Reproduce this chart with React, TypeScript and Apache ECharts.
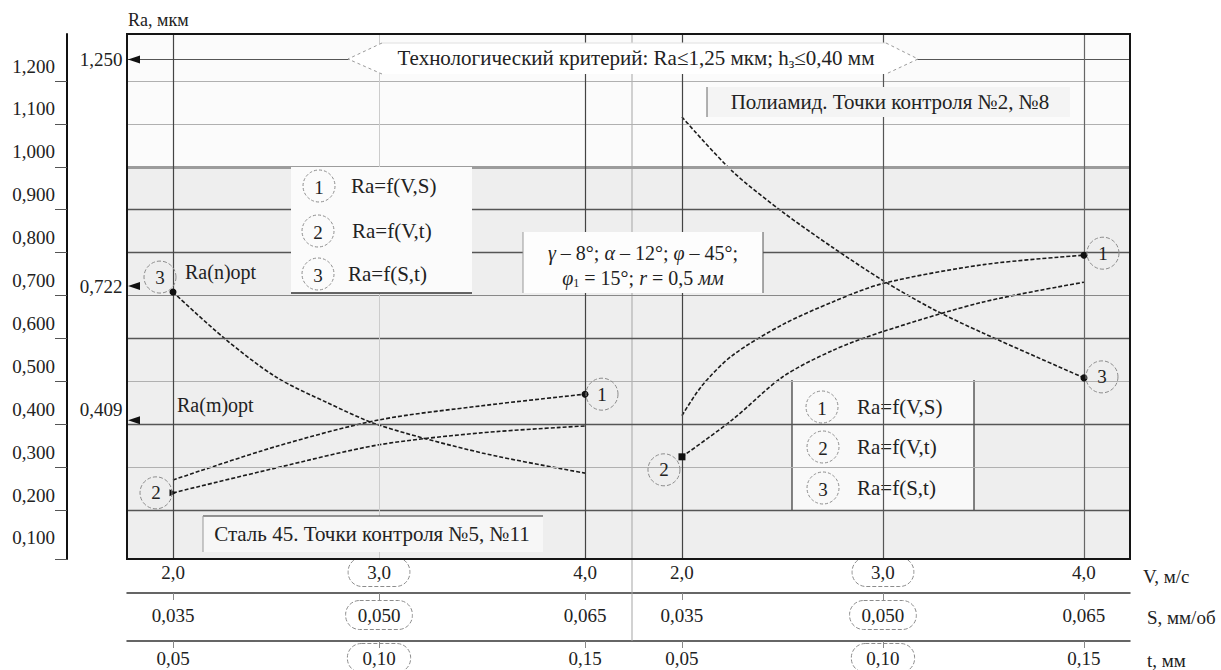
import React, { useEffect, useRef } from "react";
import * as echarts from "echarts";

// ---------- data ----------
const V_TICKS = [2, 3, 4];
const V_LABELS = ["2,0", "3,0", "4,0"];
const S_LABELS = ["0,035", "0,050", "0,065"];
const T_LABELS = ["0,05", "0,10", "0,15"];

const Y_GRID = [0.2, 0.3, 0.4, 0.5, 0.6, 0.7, 0.8, 0.9, 1.0, 1.1, 1.2];
const Y_LABEL_VALUES = [0.1, 0.2, 0.3, 0.4, 0.5, 0.6, 0.7, 0.8, 0.9, 1.0, 1.1, 1.2];

// Сталь 45 (left block), x = V, м/с
const STEEL_VS = [[2, 0.27], [2.5, 0.348], [3, 0.41], [3.5, 0.443], [4, 0.47]];
const STEEL_VT = [[2, 0.24], [2.5, 0.298], [3, 0.352], [3.5, 0.38], [4, 0.396]];
const STEEL_ST = [[2, 0.708], [2.25, 0.6], [2.5, 0.51], [2.75, 0.45], [3, 0.398], [3.5, 0.333], [4, 0.286]];

// Полиамид (right block)
const PA_VS = [[2, 0.42], [2.1, 0.49], [2.25, 0.56], [2.5, 0.632], [2.75, 0.685], [3, 0.728], [3.5, 0.772], [4, 0.794]];
const PA_VT = [[2, 0.324], [2.25, 0.41], [2.5, 0.51], [2.75, 0.572], [3, 0.616], [3.5, 0.685], [4, 0.731]];
const PA_ST = [[2, 1.116], [2.25, 0.99], [2.5, 0.895], [2.75, 0.812], [3, 0.735], [3.25, 0.668], [3.5, 0.612], [4, 0.508]];

const RA_CRITERION = 1.25;
const RA_N_OPT = 0.722;
const RA_M_OPT = 0.409;

// ---------- axis ranges ----------
const Y_MIN = 0.0858;
const Y_MAX = 1.3096;
const XL_MIN = 1.7767;
const XL_MAX = 6.6456;
const XR_MIN = -0.761;
const XR_MAX = 4.229;

const SERIF = "Liberation Serif, Times New Roman, DejaVu Serif, serif";
const INK = "#222222";

const numStyle = {
  fontFamily: SERIF,
  fontSize: 19,
  color: INK,
  lineHeight: 18,
  padding: [5, 0, 5, 0],
};
const ringStyle = (px: number) => ({
  ...numStyle,
  padding: [5, px, 5, px],
  borderColor: "#8c8c8c",
  borderWidth: 1,
  borderType: "dashed",
  borderRadius: 14,
});
const RICH = { n: numStyle, cV: ringStyle(19), cS: ringStyle(12), cT: ringStyle(15) };

const labelFormatter = (labels: string[], ringKey: string) => (value: number) => {
  const i = V_TICKS.findIndex((t) => Math.abs(t - value) < 1e-6);
  if (i < 0) return "";
  return i === 1 ? `{${ringKey}|${labels[i]}}` : `{n|${labels[i]}}`;
};

const bottomAxis = (
  min: number,
  max: number,
  labels: string[],
  ringKey: string,
  offset: number,
  margin: number,
  showLine: boolean
) => ({
  type: "value",
  gridIndex: 0,
  position: "bottom",
  offset,
  min,
  max,
  splitLine: { show: false },
  axisLine: { show: showLine, onZero: false, lineStyle: { color: "#333", width: 1.5 } },
  axisTick: {
    show: offset > 0,
    customValues: V_TICKS,
    length: 7,
    lineStyle: { color: "#888", width: 1 },
  },
  axisLabel: {
    show: true,
    customValues: V_TICKS,
    formatter: labelFormatter(labels, ringKey),
    margin,
    rich: RICH,
    fontFamily: SERIF,
    fontSize: 19,
    color: INK,
    hideOverlap: false,
  },
});

const gridLineStyle = (v: number) => {
  if (Math.abs(v - 1.0) < 1e-6) return { color: "#9c9c9c", width: 3, type: "solid" };
  if ([0.2, 0.4, 0.6, 0.8, 0.9].some((s) => Math.abs(s - v) < 1e-6))
    return { color: "#555555", width: 1.3, type: "solid" };
  if (Math.abs(v - 0.7) < 1e-6) return { color: "#888888", width: 1.1, type: "solid" };
  return { color: "#b0b0b0", width: 1, type: "solid" };
};

const dot = (pt: number[], symbol = "circle", rotate = 0) => ({
  coord: pt,
  symbol,
  symbolSize: 7,
  symbolRotate: rotate,
  itemStyle: { color: "#111" },
  label: { show: false },
});
const ring = (pt: number[], num: string, offset: number[]) => ({
  coord: pt,
  symbol: "circle",
  symbolSize: 32,
  symbolOffset: offset,
  itemStyle: { color: "rgba(255,255,255,0)", borderColor: "#8c8c8c", borderWidth: 1, borderType: "dashed" },
  label: { show: true, position: "inside", formatter: num, fontFamily: SERIF, fontSize: 19, color: INK },
});
const first = (d: number[][]) => d[0];
const last = (d: number[][]) => d[d.length - 1];

const curve = (name: string, data: number[][], xAxisIndex: number, marks: any[]) => ({
  name,
  type: "line",
  xAxisIndex,
  yAxisIndex: 0,
  data,
  smooth: 0.3,
  symbol: "none",
  silent: true,
  z: 3,
  lineStyle: { color: "#1b1b1b", width: 1.6, type: [4, 2] },
  markPoint: { silent: true, animation: false, data: marks },
});

const refArrow = (v: number) => ({
  coord: [XL_MIN, v],
  symbol: "triangle",
  symbolSize: [8, 12],
  symbolRotate: 90,
  symbolOffset: [7, 0],
  itemStyle: { color: "#111" },
  label: { show: false },
});
const refLabel = (v: number, text: string, dy: number) => ({
  coord: [XL_MIN, v],
  symbol: "circle",
  symbolSize: 1,
  itemStyle: { color: "rgba(0,0,0,0)" },
  label: {
    show: true,
    position: "left",
    distance: 4,
    offset: [0, dy],
    formatter: text,
    fontFamily: SERIF,
    fontSize: 19,
    color: INK,
  },
});

const txt = (x: number, y: number, text: string, size: number, align = "left", extra: any = {}) => ({
  type: "text",
  x,
  y,
  z: 12,
  silent: true,
  style: {
    text,
    fill: INK,
    fontFamily: SERIF,
    fontSize: size,
    align,
    verticalAlign: "middle",
    ...extra,
  },
});
const rect = (x: number, y: number, w: number, h: number, fill: string, z = 10) => ({
  type: "rect",
  z,
  silent: true,
  shape: { x, y, width: w, height: h },
  style: { fill, stroke: null },
});
const seg = (x1: number, y1: number, x2: number, y2: number, stroke: string, w = 1, z = 11, dash: any = null) => ({
  type: "line",
  z,
  silent: true,
  shape: { x1, y1, x2, y2 },
  style: { stroke, lineWidth: w, lineDash: dash },
});
const legendRing = (cx: number, cy: number, num: string, z = 12) => [
  {
    type: "circle",
    z,
    silent: true,
    shape: { cx, cy, r: 16 },
    style: { fill: "rgba(0,0,0,0)", stroke: "#8c8c8c", lineWidth: 1, lineDash: [3, 2] },
  },
  { ...txt(cx, cy + 1, num, 19, "center"), z: z + 1 },
];

function buildOption() {
  const hLines = Y_GRID.map((v) => ({ yAxis: v, lineStyle: gridLineStyle(v) }));
  const leftV = [
    { xAxis: V_TICKS[0], lineStyle: { color: "#444", width: 1.2, type: "solid" } },
    { xAxis: V_TICKS[1], lineStyle: { color: "#cccccc", width: 1, type: "solid" } },
    { xAxis: V_TICKS[2], lineStyle: { color: "#444", width: 1.2, type: "solid" } },
  ];
  const rightV = [
    { xAxis: V_TICKS[0], lineStyle: { color: "#444", width: 1.2, type: "solid" } },
    { xAxis: V_TICKS[1], lineStyle: { color: "#555", width: 1.2, type: "solid" } },
    { xAxis: V_TICKS[2], lineStyle: { color: "#666", width: 1.2, type: "solid" } },
  ];

  const graphicEls: any[] = [
    txt(128, 20, "Ra, мкм", 18, "left"),
    // axis titles of the three scales
    txt(1143, 576, "V, м/с", 19, "left"),
    txt(1147, 617, "S, мм/об", 19, "left"),
    txt(1147, 660, "t, мм", 19, "left"),
    // divider between blocks
    seg(632, 34, 632, 641, "#a5a5a5", 1, 2.5),
    // criterion arrow box
    {
      type: "polygon",
      z: 10,
      silent: true,
      shape: { points: [[348, 59], [382, 43], [886, 43], [918, 59], [886, 74], [382, 74]] },
      style: { fill: "#ffffff" },
    },
    {
      type: "polyline",
      z: 11,
      silent: true,
      shape: { points: [[382, 43], [348, 59], [382, 74]] },
      style: { stroke: "#9a9a9a", lineWidth: 1, lineDash: [3, 3], fill: null },
    },
    {
      type: "polyline",
      z: 11,
      silent: true,
      shape: { points: [[886, 43], [918, 59], [886, 74]] },
      style: { stroke: "#9a9a9a", lineWidth: 1, lineDash: [3, 3], fill: null },
    },
    seg(382, 43, 886, 43, "#e0e0e0", 1),
    txt(636, 58, "Технологический критерий: Ra≤1,25 мкм; h{sub|з}≤0,40 мм", 21, "center", {
      rich: { sub: { fontFamily: SERIF, fontSize: 14, fill: INK, padding: [10, 0, 0, 0] } },
    }),
    // Полиамид label
    rect(707, 87, 363, 30, "#f4f4f4"),
    seg(707, 87, 707, 117, "#666"),
    txt(890, 102, "Полиамид. Точки контроля №2, №8", 21, "center"),
    // left legend box
    rect(291, 167, 181, 126, "#fbfbfb"),
    seg(291, 293, 472, 293, "#333", 1.5),
    ...legendRing(319, 186, "1"),
    ...legendRing(318, 231, "2"),
    ...legendRing(318, 274, "3"),
    txt(351, 186, "Ra=f(V,S)", 21),
    txt(352, 231, "Ra=f(V,t)", 21),
    txt(348, 274, "Ra=f(S,t)", 21),
    // parameters box
    rect(523, 232, 240, 61, "#fdfdfd"),
    seg(523, 232, 523, 293, "#999"),
    seg(763, 232, 763, 293, "#555"),
    txt(643, 253, "{i|γ} – 8°; {i|α} – 12°; {i|φ} – 45°;", 20, "center", {
      rich: { i: { fontFamily: SERIF, fontSize: 20, fontStyle: "italic", fill: INK } },
    }),
    txt(643, 278, "{i|φ}{sub|1} = 15°; {i|r} = 0,5 {i|мм}", 20, "center", {
      rich: {
        i: { fontFamily: SERIF, fontSize: 20, fontStyle: "italic", fill: INK },
        sub: { fontFamily: SERIF, fontSize: 12, fill: INK, padding: [10, 0, 0, 0] },
      },
    }),
    // right legend box (under the grid lines)
    rect(792, 380, 182, 130, "#f9f9f9", 1.5),
    seg(792, 380, 792, 510, "#333", 1.2, 2.5),
    seg(974, 380, 974, 510, "#333", 1.2, 2.5),
    ...legendRing(822, 407, "1", 4),
    ...legendRing(823, 447, "2", 4),
    ...legendRing(823, 488, "3", 4),
    { ...txt(857, 407, "Ra=f(V,S)", 21), z: 5 },
    { ...txt(857, 447, "Ra=f(V,t)", 21), z: 5 },
    { ...txt(857, 488, "Ra=f(S,t)", 21), z: 5 },
    // Сталь 45 label
    rect(203, 516, 340, 36, "#f7f7f7"),
    seg(203, 516, 543, 516, "#333", 1.2),
    seg(203, 516, 203, 552, "#999"),
    txt(372, 534, "Сталь 45. Точки контроля №5, №11", 21, "center"),
    // optimum annotations
    txt(185, 272, "Ra(n)opt", 20),
    txt(177, 405, "Ra(m)opt", 20),
  ];

  return {
    animation: false,
    backgroundColor: "#ffffff",
    textStyle: { fontFamily: SERIF },
    grid: {
      left: 127,
      top: 34,
      width: 1003,
      height: 525,
      show: true,
      borderColor: "#141414",
      borderWidth: 2,
      backgroundColor: "rgba(0,0,0,0)",
      z: 6,
      containLabel: false,
      outerBoundsMode: "none",
    },
    xAxis: [
      bottomAxis(XL_MIN, XL_MAX, V_LABELS, "cV", 0, 4, false),
      bottomAxis(XR_MIN, XR_MAX, V_LABELS, "cV", 0, 4, false),
      bottomAxis(XL_MIN, XL_MAX, S_LABELS, "cS", 34, 13, true),
      bottomAxis(XR_MIN, XR_MAX, S_LABELS, "cS", 34, 13, false),
      bottomAxis(XL_MIN, XL_MAX, T_LABELS, "cT", 82, 8, true),
      bottomAxis(XR_MIN, XR_MAX, T_LABELS, "cT", 82, 8, false),
    ],
    yAxis: [
      {
        type: "value",
        min: Y_MIN,
        max: Y_MAX,
        position: "left",
        offset: 60,
        splitLine: { show: false },
        axisLine: { show: true, onZero: false, lineStyle: { color: "#111", width: 2 } },
        axisTick: {
          show: true,
          length: 12,
          customValues: [Y_MIN, ...Y_GRID],
          lineStyle: { color: "#555", width: 1 },
        },
        axisLabel: {
          show: true,
          customValues: Y_LABEL_VALUES,
          formatter: (v: number) => v.toFixed(3).replace(".", ","),
          margin: 12,
          verticalAlign: "bottom",
          lineHeight: 18,
          padding: [0, 0, 6, 0],
          fontFamily: SERIF,
          fontSize: 19,
          color: INK,
        },
      },
    ],
    series: [
      {
        name: "bands",
        type: "line",
        xAxisIndex: 0,
        yAxisIndex: 0,
        data: [],
        z: 1,
        silent: true,
        markArea: {
          silent: true,
          label: { show: false },
          data: [
            [{ yAxis: Y_MIN, itemStyle: { color: "#eeeeee" } }, { yAxis: 1.0 }],
            [{ yAxis: 1.0, itemStyle: { color: "#fbfbfb" } }, { yAxis: Y_MAX }],
          ],
        },
      },
      {
        name: "grid-left",
        type: "line",
        xAxisIndex: 0,
        yAxisIndex: 0,
        data: [],
        z: 2,
        silent: true,
        markLine: {
          silent: true,
          symbol: ["none", "none"],
          label: { show: false },
          data: [
            ...hLines,
            { yAxis: RA_CRITERION, lineStyle: { color: "#555", width: 1, type: "solid" } },
            ...leftV,
          ],
        },
        markPoint: {
          silent: true,
          data: [
            refArrow(RA_CRITERION),
            refLabel(RA_CRITERION, "1,250", 0),
            refArrow(RA_N_OPT),
            refLabel(RA_N_OPT, "0,722", 0),
            refArrow(RA_M_OPT),
            refLabel(RA_M_OPT, "0,409", -11),
          ],
        },
      },
      {
        name: "grid-right",
        type: "line",
        xAxisIndex: 1,
        yAxisIndex: 0,
        data: [],
        z: 2,
        silent: true,
        markLine: {
          silent: true,
          symbol: ["none", "none"],
          label: { show: false },
          data: rightV,
        },
      },
      curve("Сталь 45: Ra=f(V,S)", STEEL_VS, 0, [dot(last(STEEL_VS)), ring(last(STEEL_VS), "1", [17, 0])]),
      curve("Сталь 45: Ra=f(V,t)", STEEL_VT, 0, [
        dot(first(STEEL_VT), "triangle", -90),
        ring(first(STEEL_VT), "2", [-17, 0]),
      ]),
      curve("Сталь 45: Ra=f(S,t)", STEEL_ST, 0, [dot(first(STEEL_ST)), ring(first(STEEL_ST), "3", [-13, -15])]),
      curve("Полиамид: Ra=f(V,S)", PA_VS, 1, [dot(last(PA_VS)), ring(last(PA_VS), "1", [19, -2])]),
      curve("Полиамид: Ra=f(V,t)", PA_VT, 1, [dot(first(PA_VT), "rect"), ring(first(PA_VT), "2", [-18, 13])]),
      curve("Полиамид: Ra=f(S,t)", PA_ST, 1, [dot(last(PA_ST)), ring(last(PA_ST), "3", [18, -1])]),
    ],
    graphic: { elements: graphicEls },
  };
}

export default function App() {
  const ref = useRef<HTMLDivElement>(null);
  useEffect(() => {
    if (!ref.current) return;
    const chart = echarts.init(ref.current, null, { renderer: "svg" });
    chart.setOption(buildOption() as any);
    return () => chart.dispose();
  }, []);
  return (
    <div
      ref={ref}
      style={{ position: "fixed", left: 0, top: 0, width: 1221, height: 670, background: "#ffffff" }}
    />
  );
}
